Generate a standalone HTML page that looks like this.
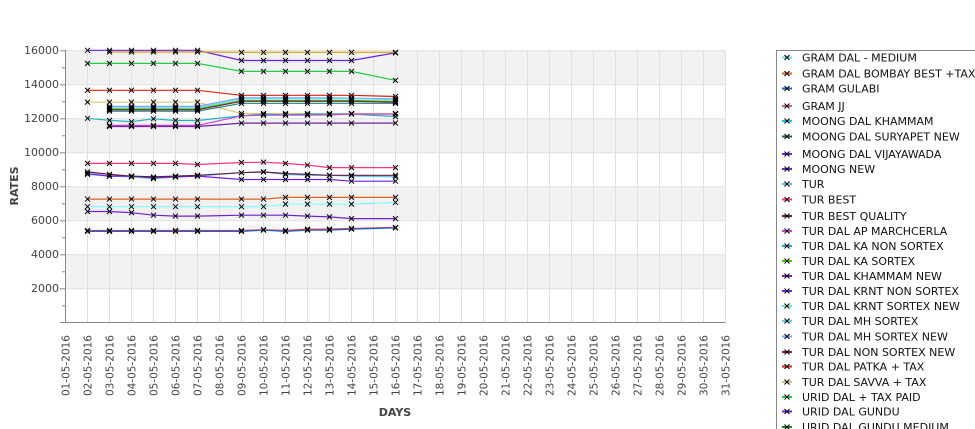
<!DOCTYPE html>
<html><head><meta charset="utf-8"><style>
html,body{margin:0;background:#fff;width:975px;height:429px;overflow:hidden}
svg{display:block;overflow:hidden}
text{font-family:"DejaVu Sans","Liberation Sans",sans-serif}
</style></head><body>
<svg id="s" width="975" height="429" viewBox="0 0 975 429" xmlns="http://www.w3.org/2000/svg">
<g id="bands"></g>
<g id="grid" stroke="#e0e0e0" stroke-width="1"></g>
<g id="series" fill="none" stroke-width="1.2"></g>
<g id="marks" stroke="#000" stroke-width="1"></g>
<line x1="65.5" y1="50" x2="65.5" y2="322.5" stroke="#888"/>
<line x1="60" y1="322.5" x2="725.5" y2="322.5" stroke="#888"/>
<g id="yt" stroke="#888"></g>
<g font-size="11" fill="#444" text-anchor="end">
<text x="59" y="54">16000</text><text x="59" y="88">14000</text><text x="59" y="122">12000</text>
<text x="59" y="156">10000</text><text x="59" y="190">8000</text><text x="59" y="224">6000</text>
<text x="59" y="258">4000</text><text x="59" y="292">2000</text>
</g>
<g font-size="10.5" fill="#444" text-anchor="end">
<text transform="translate(69.5,335) rotate(-90)">01-05-2016</text>
<text transform="translate(91.5,335) rotate(-90)">02-05-2016</text>
<text transform="translate(113.5,335) rotate(-90)">03-05-2016</text>
<text transform="translate(135.5,335) rotate(-90)">04-05-2016</text>
<text transform="translate(157.5,335) rotate(-90)">05-05-2016</text>
<text transform="translate(179.5,335) rotate(-90)">06-05-2016</text>
<text transform="translate(201.5,335) rotate(-90)">07-05-2016</text>
<text transform="translate(223.5,335) rotate(-90)">08-05-2016</text>
<text transform="translate(245.5,335) rotate(-90)">09-05-2016</text>
<text transform="translate(267.5,335) rotate(-90)">10-05-2016</text>
<text transform="translate(289.5,335) rotate(-90)">11-05-2016</text>
<text transform="translate(311.5,335) rotate(-90)">12-05-2016</text>
<text transform="translate(333.5,335) rotate(-90)">13-05-2016</text>
<text transform="translate(355.5,335) rotate(-90)">14-05-2016</text>
<text transform="translate(377.5,335) rotate(-90)">15-05-2016</text>
<text transform="translate(399.5,335) rotate(-90)">16-05-2016</text>
<text transform="translate(421.5,335) rotate(-90)">17-05-2016</text>
<text transform="translate(443.5,335) rotate(-90)">18-05-2016</text>
<text transform="translate(465.5,335) rotate(-90)">19-05-2016</text>
<text transform="translate(487.5,335) rotate(-90)">20-05-2016</text>
<text transform="translate(509.5,335) rotate(-90)">21-05-2016</text>
<text transform="translate(531.5,335) rotate(-90)">22-05-2016</text>
<text transform="translate(553.5,335) rotate(-90)">23-05-2016</text>
<text transform="translate(575.5,335) rotate(-90)">24-05-2016</text>
<text transform="translate(597.5,335) rotate(-90)">25-05-2016</text>
<text transform="translate(619.5,335) rotate(-90)">26-05-2016</text>
<text transform="translate(641.5,335) rotate(-90)">27-05-2016</text>
<text transform="translate(663.5,335) rotate(-90)">28-05-2016</text>
<text transform="translate(685.5,335) rotate(-90)">29-05-2016</text>
<text transform="translate(707.5,335) rotate(-90)">30-05-2016</text>
<text transform="translate(729.5,335) rotate(-90)">31-05-2016</text>
</g>
<text x="395" y="416" font-size="11" font-weight="bold" fill="#444" text-anchor="middle" font-family="DejaVu Sans Mono,monospace">DAYS</text>
<text transform="translate(18,186) rotate(-90)" font-size="11" font-weight="bold" fill="#444" text-anchor="middle" font-family="DejaVu Sans Mono,monospace">RATES</text>
<rect x="776.5" y="50.5" width="200" height="380" fill="#fff" stroke="#888"/>
<g id="leg"></g>
<g font-size="11" fill="#111">
<text x="802" y="61.5">GRAM DAL - MEDIUM</text>
<text x="802" y="77.5">GRAM DAL BOMBAY BEST +TAX</text>
<text x="802" y="92.5">GRAM GULABI</text>
<text x="802" y="110">GRAM JJ</text>
<text x="802" y="125">MOONG DAL KHAMMAM</text>
<text x="802" y="140.5">MOONG DAL SURYAPET NEW</text>
<text x="802" y="158">MOONG DAL VIJAYAWADA</text>
<text x="802" y="173">MOONG NEW</text>
<text x="802" y="188">TUR</text>
<text x="802" y="203.5">TUR BEST</text>
<text x="802" y="220">TUR BEST QUALITY</text>
<text x="802" y="235">TUR DAL AP MARCHCERLA</text>
<text x="802" y="250">TUR DAL KA NON SORTEX</text>
<text x="802" y="265">TUR DAL KA SORTEX</text>
<text x="802" y="280">TUR DAL KHAMMAM NEW</text>
<text x="802" y="295">TUR DAL KRNT NON SORTEX</text>
<text x="802" y="310">TUR DAL KRNT SORTEX NEW</text>
<text x="802" y="325">TUR DAL MH SORTEX</text>
<text x="802" y="340.5">TUR DAL MH SORTEX NEW</text>
<text x="802" y="356">TUR DAL NON SORTEX NEW</text>
<text x="802" y="370.5">TUR DAL PATKA + TAX</text>
<text x="802" y="386">TUR DAL SAVVA + TAX</text>
<text x="802" y="401">URID DAL + TAX PAID</text>
<text x="802" y="415.5">URID DAL GUNDU</text>
<text x="802" y="431">URID DAL GUNDU MEDIUM</text>
</g>
</svg>
<script>
var NS="http://www.w3.org/2000/svg";
function el(p,t,a){var e=document.createElementNS(NS,t);for(var k in a)e.setAttribute(k,a[k]);document.getElementById(p).appendChild(e);return e;}
function X(d){return 65.5+(d-1)*22;}
function Y(v){return 50.3+(16000-v)*0.017;}
for(var i=0;i<8;i++){if(i%2==0)el("bands","rect",{x:65.5,y:Y(16000-i*2000),width:660,height:34,fill:"#f2f2f2"});}
for(var v=2000;v<=16000;v+=2000)el("grid","line",{x1:65.5,x2:725.5,y1:Y(v)+.5,y2:Y(v)+.5});
for(var d=2;d<=31;d++)el("grid","line",{x1:X(d),x2:X(d),y1:50,y2:322});
for(var v=1000;v<=16000;v+=1000)el("yt","line",{x1:v%2000?62:60,x2:65.5,y1:Y(v)+.5,y2:Y(v)+.5});
var D=[2,3,4,5,6,7,9,10,11,12,13,14,16],D3=[3,4,5,6,7,9,10,11,12,13,14,16];
var S=[
["#6a1fe0",D,[16000,16000,16000,16000,16000,16000,15400,15400,15400,15400,15400,15400,15850]],
["#d4a017",D3,[15900,15900,15900,15900,15900,15880,15880,15880,15880,15880,15880,15880]],
["#22cc44",D,[15230,15230,15230,15230,15230,15230,14760,14760,14760,14760,14760,14760,14230]],
["#e02010",D,[13650,13650,13650,13650,13650,13650,13350,13350,13350,13350,13350,13350,13280]],
["#d4c87a",D,[12950,12950,12950,12950,12950,12950,12280,12280,12280,12280,12280,12280,12280]],
["#80a0ff",D3,[12700,12700,12700,12700,12700,13200,13200,13200,13200,13200,13180,13150]],
["#60e0f0",D3,[12620,12620,12620,12620,12620,13150,13150,13150,13150,13150,13150,13100]],
["#44cc00",D3,[12550,12550,12550,12550,12550,13050,13050,13050,13050,13050,13050,13000]],
["#802040",D3,[12500,12500,12500,12500,12500,13000,13000,13000,13000,13000,13000,12950]],
["#208080",D3,[12420,12420,12420,12420,12420,12880,12880,12880,12880,12880,12880,12880]],
["#20b0c0",D,[12000,11880,11800,11970,11870,11870,12150,12250,12200,12250,12250,12250,12100]],
["#cc44cc",D3,[11580,11580,11580,11580,11580,12150,12180,12180,12180,12200,12250,12250]],
["#7020a0",D3,[11520,11520,11520,11520,11520,11720,11720,11720,11720,11720,11720,11720]],
["#ff3080",D,[9350,9350,9350,9350,9350,9280,9400,9420,9350,9250,9100,9100,9100]],
["#60c0ff",D,[8700,8600,8550,8450,8550,8600,8800,8850,8700,8650,8650,8600,8550]],
["#7020e0",D,[8750,8600,8600,8500,8550,8600,8400,8400,8400,8400,8400,8300,8300]],
["#602040",D,[8850,8700,8600,8550,8600,8650,8800,8850,8750,8700,8650,8650,8650]],
["#e06020",D,[7250,7250,7250,7250,7250,7250,7250,7250,7350,7350,7350,7350,7350]],
["#80ffff",D,[6800,6800,6800,6800,6800,6800,6800,6800,6950,6950,6950,6950,7050]],
["#7020d0",D,[6520,6520,6450,6300,6250,6250,6300,6300,6300,6250,6200,6100,6100]],
["#d04060",D,[5400,5400,5400,5400,5400,5400,5400,5450,5400,5480,5480,5520,5580]],
["#2060c0",D,[5350,5350,5350,5350,5350,5350,5350,5420,5350,5420,5420,5480,5550]]
];
S.forEach(function(s){var p=s[1].map(function(d,i){return X(s[1][i])+","+Y(s[2][i]).toFixed(1)}).join(" ");
el("series","polyline",{points:p,stroke:s[0]});
s[1].forEach(function(d,i){var x=X(d),y=Y(s[2][i]);el("marks","path",{d:"M"+(x-2.5)+" "+(y-2.5)+"L"+(x+2.5)+" "+(y+2.5)+"M"+(x+2.5)+" "+(y-2.5)+"L"+(x-2.5)+" "+(y+2.5)});});});
var LC=["#60e0e0","#e06020","#2060c0","#d06080","#20c0e0","#206050","#7020e0","#6030c0","#60c0ff","#ff3080","#602040","#cc44cc","#20b0c0","#44cc00","#8020a0","#7020e0","#60f0c0","#60d0e0","#80a0ff","#802040","#e02010","#d4c87a","#22cc44","#6a1fe0","#208020"];
var LY=[57.5,73.5,88.5,106,121,136.5,154,169,184,199.5,216,231,246,261,276,291,306,321,336.5,352,366.5,382,397,411.5,427];
LC.forEach(function(c,i){var y=LY[i];el("leg","line",{x1:782,x2:792,y1:y,y2:y,stroke:c,"stroke-width":2});
el("leg","path",{d:"M784.5 "+(y-2.5)+"L789.5 "+(y+2.5)+"M789.5 "+(y-2.5)+"L784.5 "+(y+2.5),stroke:"#000"});});
</script>
</body></html>
